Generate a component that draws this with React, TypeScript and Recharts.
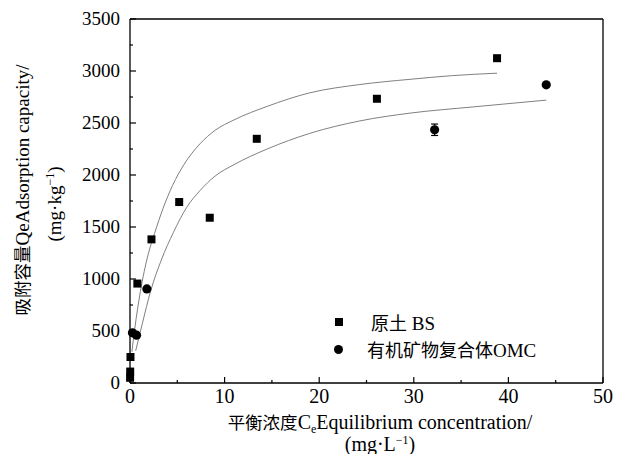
import { ComposedChart, Scatter, Line, XAxis, YAxis, ErrorBar, ReferenceLine, Legend } from 'recharts'

// 原土 BS measured points
const bsCe = [0.01, 0.02, 0.05, 0.78, 2.27, 5.2, 8.43, 13.4, 26.1, 38.8]
const bsQe = [50, 110, 250, 956, 1381, 1740, 1589, 2348, 2733, 3123]
const bsErr = [0, 0, 0, 0, 0, 0, 0, 0, 0, 0]

// 有机矿物复合体 OMC measured points
const omcCe = [0.26, 0.69, 1.78, 32.2, 44.0]
const omcQe = [482, 460, 905, 2435, 2867]
const omcErr = [0, 0, 0, 55, 0]

// fitted isotherm curves
const bsFitCe = [0.2, 0.5, 1.1, 1.9, 2.6, 3.5, 4.5, 5.7, 7.4, 9, 11, 14.5, 19, 24.3, 29.6, 34, 38.8]
const bsFitQe = [300, 520, 880, 1230, 1440, 1680, 1900, 2100, 2300, 2430, 2530, 2660, 2790, 2870, 2920, 2955, 2979]
const omcFitCe = [0.6, 1.3, 2.2, 3.3, 4.6, 6, 7.4, 9, 11, 14.5, 19, 24.3, 29.6, 36.3, 44]
const omcFitQe = [310, 570, 890, 1180, 1450, 1690, 1850, 1990, 2100, 2250, 2400, 2520, 2595, 2655, 2720]

const xTicks = [0, 5, 10, 15, 20, 25, 30, 35, 40, 45, 50]
const yTicks = [0, 250, 500, 750, 1000, 1250, 1500, 1750, 2000, 2250, 2500, 2750, 3000, 3250, 3500]

const bsData = bsCe.map((x, i) => ({ x, y: bsQe[i], err: bsErr[i] }))
const omcData = omcCe.map((x, i) => ({ x, y: omcQe[i], err: omcErr[i] }))
const bsFit = bsFitCe.map((x, i) => ({ x, y: bsFitQe[i] }))
const omcFit = omcFitCe.map((x, i) => ({ x, y: omcFitQe[i] }))

const FONT = "'Liberation Serif', 'Noto Sans CJK SC', serif"
const CJK = "'Noto Sans CJK SC', serif"

const XTick = (props: any) => {
  const { x, y, payload } = props
  const major = payload.value % 10 === 0
  return (
    <g>
      <line x1={x} x2={x} y1={y} y2={y - (major ? 6 : 3)} stroke="#000" strokeWidth={1.2} />
      {major && (
        <text x={x} y={y + 20} textAnchor="middle" fontSize={20} fontFamily={FONT} fill="#000">
          {payload.value}
        </text>
      )}
    </g>
  )
}

const YTick = (props: any) => {
  const { x, y, payload } = props
  const major = payload.value % 500 === 0
  return (
    <g>
      <line x1={x} x2={x + (major ? 6 : 3)} y1={y} y2={y} stroke="#000" strokeWidth={1.2} />
      {major && (
        <text x={x - 10} y={y + 6} textAnchor="end" fontSize={19} fontFamily={FONT} fill="#000">
          {payload.value}
        </text>
      )}
    </g>
  )
}

const Square = (p: any) => <rect x={p.cx - 4} y={p.cy - 4} width={8} height={8} fill="#000" />
const Dot = (p: any) => <circle cx={p.cx} cy={p.cy} r={4.6} fill="#000" />

const XTitle = () => (
  <g fontFamily={FONT} fontSize={20} fill="#000">
    <text x={380} y={429} textAnchor="middle">
      <tspan fontFamily={CJK} fontSize={17.5}>平衡浓度</tspan>C<tspan fontSize={12} dy={4}>e</tspan>
      <tspan dy={-4}>Equilibrium concentration/</tspan>
    </text>
    <text x={380} y={451} textAnchor="middle">
      (mg·L<tspan fontSize={12} dy={-7}>−1</tspan>
      <tspan dy={7}>)</tspan>
    </text>
  </g>
)

const YTitle = () => (
  <g fontFamily={FONT} fontSize={19} fill="#000">
    <text x={29} y={190} textAnchor="middle" transform="rotate(-90, 29, 190)">
      <tspan fontFamily={CJK} fontSize={17.5}>吸附容量</tspan>QeAdsorption capacity/
    </text>
    <text x={61} y={204} textAnchor="middle" transform="rotate(-90, 61, 204)">
      (mg·kg<tspan fontSize={12} dy={-7}>−1</tspan>
      <tspan dy={7}>)</tspan>
    </text>
  </g>
)

const LegendBox = () => (
  <div style={{ position: 'relative', fontFamily: FONT, fontSize: 19, color: '#000', width: 260, height: 60 }}>
    <div style={{ position: 'absolute', left: 6, top: 10, width: 8, height: 8, background: '#000' }} />
    <div style={{ position: 'absolute', left: 42, top: 1, lineHeight: '26px', whiteSpace: 'nowrap' }}>
      <span style={{ fontFamily: CJK, fontSize: 18 }}>原土</span> BS
    </div>
    <div style={{ position: 'absolute', left: 5, top: 37, width: 9, height: 9, borderRadius: '50%', background: '#000' }} />
    <div style={{ position: 'absolute', left: 38, top: 28, lineHeight: '26px', whiteSpace: 'nowrap' }}>
      <span style={{ fontFamily: CJK, fontSize: 18 }}>有机矿物复合体</span>OMC
    </div>
  </div>
)

export default function App() {
  return (
    <div style={{ position: 'absolute', left: 0, top: 0, width: 637, height: 454, background: '#fff' }}>
      <ComposedChart width={637} height={454} margin={{ top: 19, right: 34, bottom: 0, left: 0 }}>
        <XAxis
          type="number"
          dataKey="x"
          domain={[0, 50]}
          ticks={xTicks}
          interval={0}
          tick={<XTick />}
          tickLine={false}
          tickSize={0}
          tickMargin={0}
          height={71}
          axisLine={{ stroke: '#000', strokeWidth: 1.3 }}
          label={{ content: () => <XTitle /> }}
        />
        <YAxis
          type="number"
          dataKey="y"
          domain={[0, 3500]}
          ticks={yTicks}
          interval={0}
          tick={<YTick />}
          tickLine={false}
          tickSize={0}
          tickMargin={0}
          width={130}
          axisLine={{ stroke: '#000', strokeWidth: 1.3 }}
          label={{ content: () => <YTitle /> }}
        />
        <ReferenceLine y={3500} stroke="#000" strokeWidth={1.3} />
        <ReferenceLine x={50} stroke="#000" strokeWidth={1.3} />
        <Line data={bsFit} dataKey="y" type="monotone" stroke="#808080" strokeWidth={1} dot={false} isAnimationActive={false} />
        <Line data={omcFit} dataKey="y" type="monotone" stroke="#808080" strokeWidth={1} dot={false} isAnimationActive={false} />
        <Scatter data={bsData} dataKey="y" shape={Square} isAnimationActive={false}>
          <ErrorBar dataKey="err" direction="y" width={3.5} stroke="#000" strokeWidth={1.2} />
        </Scatter>
        <Scatter data={omcData} dataKey="y" shape={Dot} isAnimationActive={false}>
          <ErrorBar dataKey="err" direction="y" width={3.5} stroke="#000" strokeWidth={1.2} />
        </Scatter>
        <Legend
          layout="horizontal"
          verticalAlign="middle"
          content={() => <LegendBox />}
          wrapperStyle={{ left: 329, top: 308, width: 260, height: 60 }}
        />
      </ComposedChart>
    </div>
  )
}
